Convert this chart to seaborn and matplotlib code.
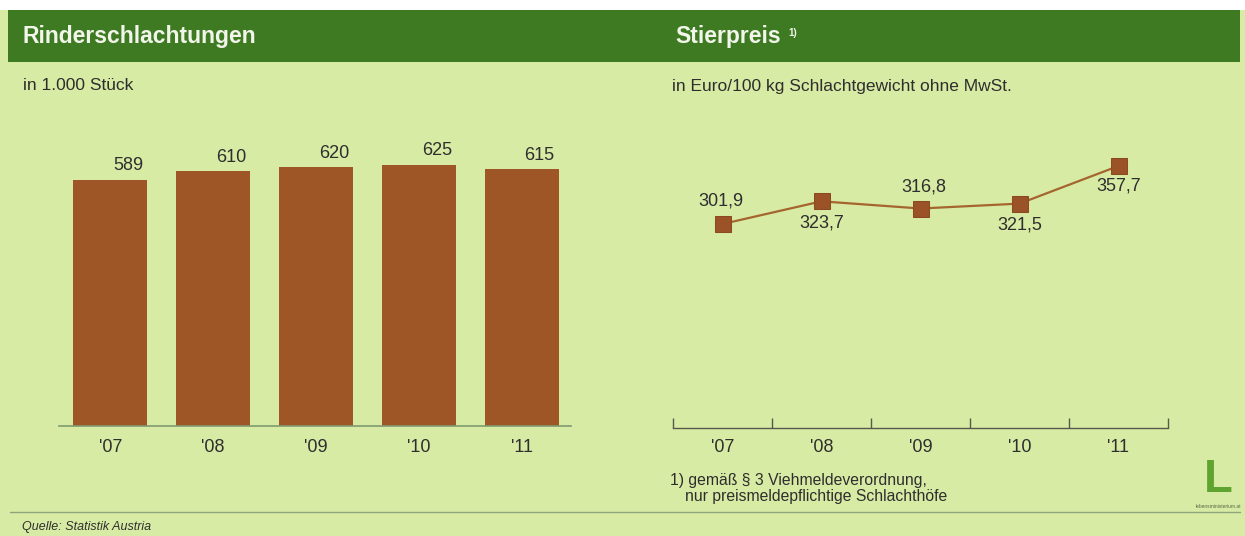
import matplotlib
matplotlib.use("Agg")
import matplotlib.pyplot as plt
import seaborn as sns
from matplotlib.patches import Rectangle

# Data
years = ["'07", "'08", "'09", "'10", "'11"]
schlachtungen = [589, 610, 620, 625, 615]
stierpreis = [301.9, 323.7, 316.8, 321.5, 357.7]
preis_labels = ["301,9", "323,7", "316,8", "321,5", "357,7"]

# label offsets for the price points (pixels)
preis_offsets = [(-2, 23), (0, -22), (3, 22), (0, -21), (0, -20)]

bg = "#d8eba4"
green = "#3d7a22"
brown = "#9e5626"
text_col = "#2e2e2e"

sns.set_theme(style="white")
plt.rcParams["font.family"] = ["Liberation Sans", "DejaVu Sans"]

W, H = 1245, 536
fig = plt.figure(figsize=(W / 100, H / 100), dpi=100, facecolor=bg)


def px(x, y, w, h):
    # pixel box (top-left origin) -> figure fraction
    return [x / W, 1 - (y + h) / H, w / W, h / H]


# white strip on top and green header bar
fig.patches.append(Rectangle((0, 1 - 10 / H), 1, 10 / H, transform=fig.transFigure,
                             facecolor="white", edgecolor="none", zorder=0))
fig.patches.append(Rectangle((8 / W, 1 - 62 / H), (1240 - 8) / W, 52 / H,
                             transform=fig.transFigure, facecolor=green,
                             edgecolor="none", zorder=0))
# bottom rule
fig.add_artist(plt.Line2D([10 / W, 1240 / W], [1 - 512 / H, 1 - 512 / H],
                          transform=fig.transFigure, color="#8da47c", lw=1))

fig.text(23 / W, 1 - 37 / H, "Rinderschlachtungen", color="#f2f5ea",
         fontsize=16.5, fontweight="bold", va="center")
fig.text(675 / W, 1 - 37 / H, "Stierpreis", color="#f2f5ea",
         fontsize=16.5, fontweight="bold", va="center")
fig.text(788 / W, 1 - 33 / H, "1)", color="#f2f5ea", fontsize=7,
         fontweight="bold", va="center")
fig.text(23 / W, 1 - 86 / H, "in 1.000 Stück", color=text_col, fontsize=12.5,
         va="center")
fig.text(672 / W, 1 - 86 / H, "in Euro/100 kg Schlachtgewicht ohne MwSt.",
         color=text_col, fontsize=12.5, va="center")
fig.text(670 / W, 1 - 480 / H, "1) gemäß § 3 Viehmeldeverordnung,",
         color=text_col, fontsize=11.3, va="center")
fig.text(685 / W, 1 - 497 / H, "nur preismeldepflichtige Schlachthöfe",
         color=text_col, fontsize=11.3, va="center")
fig.text(22 / W, 1 - 527 / H, "Quelle: Statistik Austria", color=text_col,
         fontsize=9, style="italic", va="center")
# logo
fig.text(1218 / W, 1 - 480 / H, "L", color="#5ea42e", fontsize=34,
         fontweight="bold", ha="center", va="center")
fig.text(1218 / W, 1 - 506 / H, "lebensministerium.at", color="#556b45",
         fontsize=3.5, ha="center", va="center")

# left: bar chart
ax1 = fig.add_axes(px(59, 140, 512, 286))
ax1.set_facecolor("none")
sns.barplot(x=years, y=schlachtungen, ax=ax1, color=brown, saturation=1,
            width=0.72, linewidth=0)
ax1.set_xlim(-0.5, 4.48)
ax1.set_ylim(0, 286 / 0.4177)
for s in ["top", "right", "left"]:
    ax1.spines[s].set_visible(False)
ax1.spines["bottom"].set_color("#7f9a70")
ax1.spines["bottom"].set_linewidth(1.2)
ax1.set_yticks([])
ax1.tick_params(axis="x", length=0, labelsize=13, colors=text_col, pad=9)
ax1.set_xlabel("")
for i, v in enumerate(schlachtungen):
    ax1.annotate(str(v), (i, v), xytext=(18, 14), textcoords="offset pixels",
                 ha="center", va="center", fontsize=13, color=text_col)

# right: line chart
ax2 = fig.add_axes(px(673, 140, 495, 288))
ax2.set_facecolor("none")
sns.lineplot(x=years, y=stierpreis, ax=ax2, color="#a5652e", lw=1.6,
             marker="s", markersize=11, markerfacecolor="#9a5226",
             markeredgecolor="#8a4a22")
ax2.set_xlim(-0.5, 4.5)
y_lo = stierpreis[0] - (428 - 224) / 1.04
ax2.set_ylim(y_lo, y_lo + 288 / 1.04)
for s in ["top", "right", "left"]:
    ax2.spines[s].set_visible(False)
ax2.spines["bottom"].set_color("#555a4a")
ax2.spines["bottom"].set_linewidth(1)
ax2.set_yticks([])
ax2.set_xticks(range(len(years)))
ax2.set_xticklabels(years)
ax2.set_xticks([i - 0.5 for i in range(len(years) + 1)], minor=True)
ax2.tick_params(axis="x", which="major", length=0, labelsize=13,
                colors=text_col, pad=8)
ax2.tick_params(axis="x", which="minor", direction="in", length=7,
                width=1, color="#555a4a", bottom=True)
for i, v in enumerate(stierpreis):
    dx, dy = preis_offsets[i]
    ax2.annotate(preis_labels[i], (i, v), xytext=(dx, dy),
                 textcoords="offset pixels", ha="center", va="center",
                 fontsize=13, color=text_col)

fig.savefig("out.png", dpi=100, facecolor=bg)
